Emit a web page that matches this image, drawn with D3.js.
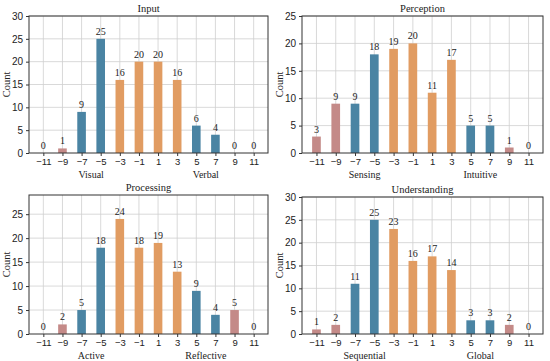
<!DOCTYPE html>
<html>
<head>
<meta charset="utf-8">
<script src="https://cdn.jsdelivr.net/npm/d3@7"></script>
<style>
  body { margin: 0; background: #fff; }
  svg { font-family: "Liberation Serif", "DejaVu Serif", serif; }
  .grid line { stroke: #cfcfcf; stroke-width: 0.8; }
  .tick text { fill: #222; }
</style>
</head>
<body>
<div id="chart"></div>
<script>
// --- DATOS ---
const positions = [-11, -9, -7, -5, -3, -1, 1, 3, 5, 7, 9, 11];
const inputCounts = [0, 1, 9, 25, 16, 20, 20, 16, 6, 4, 0, 0];
const perceptionCounts = [3, 9, 9, 18, 19, 20, 11, 17, 5, 5, 1, 0];
const processingCounts = [0, 2, 5, 18, 24, 18, 19, 13, 9, 4, 5, 0];
const understandingCounts = [1, 2, 11, 25, 23, 16, 17, 14, 3, 3, 2, 0];
const panelTitles = ["Input", "Perception", "Processing", "Understanding"];
const poleLabels = [["Visual", "Verbal"], ["Sensing", "Intuitive"], ["Active", "Reflective"], ["Sequential", "Global"]];
const yMaxes = [30, 25, 29, 30];

// --- CONFIGURACIÓN ---
const W = 550, H = 361;
const panels = [
  { left: 29, right: 268, top: 16, bottom: 153 },
  { left: 302, right: 543, top: 16, bottom: 153 },
  { left: 29, right: 268, top: 195, bottom: 334 },
  { left: 302, right: 543, top: 197, bottom: 334 }
];
const allCounts = [inputCounts, perceptionCounts, processingCounts, understandingCounts];

function barColor(p) {
  const a = Math.abs(p);
  if (a >= 9) return "#c48a88";
  if (a >= 5) return "#4a84a3";
  return "#e19c62";
}

const svg = d3.select("#chart").append("svg")
  .attr("width", W).attr("height", H);

panels.forEach((pn, k) => {
  const counts = allCounts[k];
  const data = positions.map((p, i) => ({ pos: p, count: counts[i] }));
  const x = d3.scaleLinear().domain([-12.5, 12.5]).range([pn.left, pn.right]);
  const y = d3.scaleLinear().domain([0, yMaxes[k]]).range([pn.bottom, pn.top]);
  const g = svg.append("g");

  // rejilla
  const grid = g.append("g").attr("class", "grid");
  grid.selectAll(".vx").data(positions).enter().append("line")
    .attr("x1", d => x(d)).attr("x2", d => x(d))
    .attr("y1", pn.top).attr("y2", pn.bottom);
  grid.selectAll(".hy").data(d3.range(5, yMaxes[k] + 0.1, 5)).enter().append("line")
    .attr("x1", pn.left).attr("x2", pn.right)
    .attr("y1", d => y(d)).attr("y2", d => y(d));

  // barras
  const bw = x(0.9) - x(0);
  g.selectAll(".bar").data(data).enter().append("rect")
    .attr("x", d => x(d.pos) - bw / 2)
    .attr("width", bw)
    .attr("y", d => y(d.count))
    .attr("height", d => pn.bottom - y(d.count))
    .attr("fill", d => barColor(d.pos));

  // etiquetas de valor
  g.selectAll(".val").data(data).enter().append("text")
    .attr("x", d => x(d.pos))
    .attr("y", d => y(d.count) - 4)
    .attr("text-anchor", "middle")
    .attr("font-size", 10)
    .attr("fill", "#222")
    .text(d => d.count);

  // ejes
  const xAxis = d3.axisBottom(x).tickValues(positions).tickSize(3).tickPadding(2)
    .tickFormat(d => d < 0 ? "\u2212" + Math.abs(d) : d);
  g.append("g").attr("transform", `translate(0,${pn.bottom})`).call(xAxis)
    .call(a => a.select(".domain").remove())
    .call(a => a.selectAll("text").attr("font-size", 9.5).attr("font-family", null))
    .call(a => a.selectAll("line").attr("stroke", "#333"));
  const yAxis = d3.axisLeft(y).tickValues(d3.range(0, yMaxes[k] + 0.1, 5)).tickSize(3).tickPadding(3);
  g.append("g").attr("transform", `translate(${pn.left},0)`).call(yAxis)
    .call(a => a.select(".domain").remove())
    .call(a => a.selectAll("text").attr("font-size", 10).attr("font-family", null))
    .call(a => a.selectAll("line").attr("stroke", "#333"));

  // marco
  g.append("rect")
    .attr("x", pn.left).attr("y", pn.top)
    .attr("width", pn.right - pn.left).attr("height", pn.bottom - pn.top)
    .attr("fill", "none").attr("stroke", "#333").attr("stroke-width", 1);

  // título
  g.append("text")
    .attr("x", (pn.left + pn.right) / 2).attr("y", pn.top - 4)
    .attr("text-anchor", "middle").attr("font-size", 10.5).attr("fill", "#222")
    .text(panelTitles[k]);

  // Count
  g.append("text")
    .attr("transform", `translate(${pn.left - 19},${(pn.top + pn.bottom) / 2}) rotate(-90)`)
    .attr("text-anchor", "middle").attr("font-size", 10.5).attr("fill", "#222")
    .text("Count");

  // polos
  [-6, 6].forEach((p, j) => {
    g.append("text")
      .attr("x", x(p)).attr("y", pn.bottom + 24.5)
      .attr("text-anchor", "middle").attr("font-size", 10).attr("fill", "#222")
      .text(poleLabels[k][j]);
  });
});
</script>
</body>
</html>
